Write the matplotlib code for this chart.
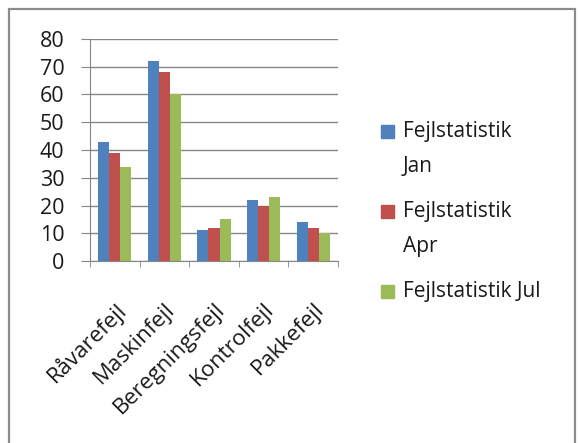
import numpy as np
import matplotlib
matplotlib.use("Agg")
import matplotlib.pyplot as plt
from matplotlib.patches import Rectangle

categories = ["Råvarefejl", "Maskinfejl", "Beregningsfejl", "Kontrolfejl", "Pakkefejl"]
jan = [43, 72, 11, 22, 14]
apr = [39, 68, 12, 20, 12]
jul = [34, 60, 15, 23, 10]
series_names = ["Fejlstatistik\nJan", "Fejlstatistik\nApr", "Fejlstatistik Jul"]
colors = ["#4F81BD", "#C0504D", "#9BBB59"]
yticks = [0, 10, 20, 30, 40, 50, 60, 70, 80]

plt.rcParams["font.family"] = ["Open Sans", "DejaVu Sans"]

W, H = 579, 443
fig = plt.figure(figsize=(W / 100, H / 100), dpi=100)

# outer chart frame (bottom runs off the image)
fig.patches.append(Rectangle((9 / W, -0.1), 566 / W, 1.1 - 9 / H,
                             transform=fig.transFigure, fill=False,
                             edgecolor="#8c8c8c", linewidth=1.6))

ax = fig.add_axes([90 / W, (H - 261) / H, 248 / W, 222 / H])

x = np.arange(len(categories))
bw = 0.222
for i, (vals, c) in enumerate(zip([jan, apr, jul], colors)):
    ax.bar(x + (i - 1) * bw, vals, width=bw, color=c, zorder=3)

ax.set_xlim(-0.5, len(categories) - 0.5)
ax.set_ylim(0, 80)
ax.set_yticks(yticks)
ax.grid(axis="y", color="#868686", linewidth=1)
ax.set_axisbelow(True)

for s in ["top", "right"]:
    ax.spines[s].set_visible(False)
for s in ["left", "bottom"]:
    ax.spines[s].set_color("#868686")

ax.tick_params(axis="y", length=6.5, color="#868686", pad=12, labelsize=15.5, labelcolor="#1a1a1a")
ax.set_xticks(x)
ax.set_xticklabels(categories, rotation=45, ha="right", rotation_mode="anchor",
                   fontsize=16, color="#1a1a1a")
ax.tick_params(axis="x", length=0, pad=27)
ax.set_xticks(np.arange(-0.5, len(categories)), minor=True)
ax.tick_params(axis="x", which="minor", length=4, color="#868686")

# legend drawn by hand so each swatch sits on the first text line
swatch_top = [125, 205, 285]
for name, c, y in zip(series_names, colors, swatch_top):
    fig.patches.append(Rectangle((381 / W, (H - y - 13) / H), 13 / W, 13 / H,
                                 transform=fig.transFigure, color=c))
    fig.text(403 / W, (H - y + 4) / H, name, fontsize=15, va="top", color="#1a1a1a",
             ha="left", linespacing=1.85, transform=fig.transFigure)

fig.savefig("out.png", dpi=100)
